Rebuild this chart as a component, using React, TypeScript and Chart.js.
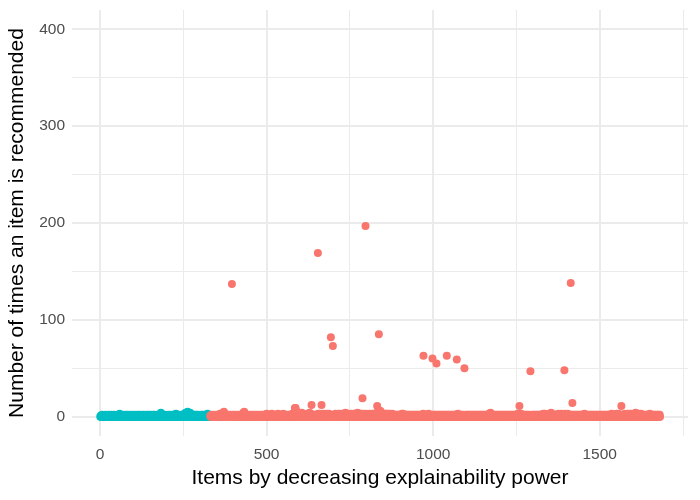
import React, { useEffect, useRef } from "react";
import { Chart, registerables } from "chart.js";

Chart.register(...registerables);

// Teal group: items 1..330 (values per item, one digit each)
const tealStart = 1;
const tealRows = [
  "01001201000110020100101002010010120100010021001010",
  "00120010301001020010100120010021001002010010120010",
  "10020100100210010201001002100102010010120010021001",
  "00201001201002100010020100120010410010200100120010",
  "01002100102010012001002010031001200102001001201002",
  "10030140102050120104010301002010010200120100210010",
  "012010021001200100210030100201",
];

// Salmon group: items 331..1690 (baseline values, one digit each)
const salmonStart = 331;
const salmonRows = [
  "10102010012010010201001020100301201030140520102010012010020100102001020100120010",
  "02010010201001020104105020100120100201001020010020100102010012010010200100201001",
  "20100201030102001020100103020100102010020103010020100102010301020010201010020100",
  "10201030201040901060201020100301020401020102010020103010204010301002010201002010",
  "20103010302010403010203010201030102030102010201030201020301020103020103010201030",
  "20301040302010302010203010201030102030102040102030201030102030102010302010",
  "20103020102030103010203010402030102060503020302030103020302030102030201030201",
  "20102010201020102010201030203010201020102010201020102010201020102010201020102010",
  "20102010301020102010201030201020102010201020102010201020102010201020102010201020",
  "10201020102010201020102010201020301020102010201020102010201020102010201020102010",
  "20102010201020102010201020102010201020102010203010403010201020102010201020102010",
  "20102010201020102010201020102010201020102010201020103010201020301020102010201020",
  "10201020102010201020102010201020102010201020102030102030201020102010301040302010",
  "20102010201020302010203010201020103020102030102010201020102010201020102010201020",
  "10201020102030102010201020102010201020102010201020102010201020102010201020102010",
  "20102010201020302010201020103010203020102010201020102030201020301020301020302010",
  "20301040302010302010203010201020102010201020102030201020102010201020102010201020",
];

// Isolated high values of the salmon group (item index, times recommended)
const outlierItems = [396, 587, 635, 654, 665, 693, 699, 788, 797, 832, 837, 971, 998, 1010, 1041, 1071, 1094, 1259, 1292, 1394, 1413, 1418, 1565];
const outlierValues = [137, 9, 12, 169, 12, 82, 73, 19, 197, 11, 85, 63, 60, 55, 63, 59, 50, 11, 47, 48, 138, 14, 11];

const xGridTicks = [0, 250, 500, 750, 1000, 1250, 1500, 1750];
const yGridTicks = [0, 50, 100, 150, 200, 250, 300, 350, 400];
const xLabelStep = 500;
const yLabelStep = 100;

const FONT = "'Liberation Sans', Arial, sans-serif";

export default function App() {
  const ref = useRef<HTMLCanvasElement | null>(null);

  useEffect(() => {
    document.body.style.margin = "0";
    const teal = tealRows
      .join("")
      .split("")
      .map((c, i) => ({ x: tealStart + i, y: Number(c) }));
    const salmonVals = salmonRows.join("").split("").map((c) => Number(c));
    outlierItems.forEach((it, k) => {
      const idx = it - salmonStart;
      if (idx >= 0 && idx < salmonVals.length) salmonVals[idx] = outlierValues[k];
    });
    const salmon = salmonVals.map((v, i) => ({ x: salmonStart + i, y: v }));

    const gridWidth = (major: number) => (ctx: any) =>
      ctx.tick && ctx.tick.value % major === 0 ? 2 : 1;

    const chart = new Chart(ref.current as HTMLCanvasElement, {
      type: "scatter",
      data: {
        datasets: [
          {
            data: salmon,
            backgroundColor: "#F8766D",
            borderWidth: 0,
            pointRadius: 4,
          },
          {
            data: teal,
            backgroundColor: "#00BFC4",
            borderWidth: 0,
            pointRadius: 4,
          },
        ],
      },
      options: {
        animation: false,
        responsive: false,
        layout: { padding: { top: 10, right: 12, left: 0, bottom: 0 } },
        plugins: { legend: { display: false }, tooltip: { enabled: false } },
        scales: {
          x: {
            type: "linear",
            min: -84,
            max: 1765,
            afterBuildTicks: (s: any) => {
              s.ticks = xGridTicks.map((v) => ({ value: v }));
            },
            afterFit: (s: any) => {
              s.height = 64;
              s.paddingLeft = 0;
              s.paddingRight = 0;
            },
            grid: { color: "#EBEBEB", lineWidth: gridWidth(xLabelStep), drawTicks: false },
            border: { display: false },
            ticks: {
              autoSkip: false,
              maxRotation: 0,
              padding: 9,
              color: "#4D4D4D",
              font: { family: FONT, size: 15.5 },
              callback: (v: any) => (Number(v) % xLabelStep === 0 ? String(v) : ""),
            },
            title: {
              display: true,
              text: "Items by decreasing explainability power",
              color: "#000000",
              font: { family: FONT, size: 21 },
              padding: { top: 0, bottom: 9 },
            },
          },
          y: {
            type: "linear",
            min: -20,
            max: 420,
            afterBuildTicks: (s: any) => {
              s.ticks = yGridTicks.map((v) => ({ value: v }));
            },
            afterFit: (s: any) => {
              s.width = 72;
              s.paddingTop = 0;
              s.paddingBottom = 0;
            },
            grid: { color: "#EBEBEB", lineWidth: gridWidth(yLabelStep), drawTicks: false },
            border: { display: false },
            ticks: {
              autoSkip: false,
              padding: 7,
              color: "#4D4D4D",
              font: { family: FONT, size: 15.5 },
              callback: (v: any) => (Number(v) % yLabelStep === 0 ? String(v) : ""),
            },
            title: {
              display: true,
              text: "Number of times an item is recommended",
              color: "#000000",
              font: { family: FONT, size: 21 },
              padding: { top: 5, bottom: 0 },
            },
          },
        },
      },
    } as any);
    return () => chart.destroy();
  }, []);

  return (
    <div style={{ width: 700, height: 500 }}>
      <canvas ref={ref} width={700} height={500} style={{ display: "block" }} />
    </div>
  );
}
